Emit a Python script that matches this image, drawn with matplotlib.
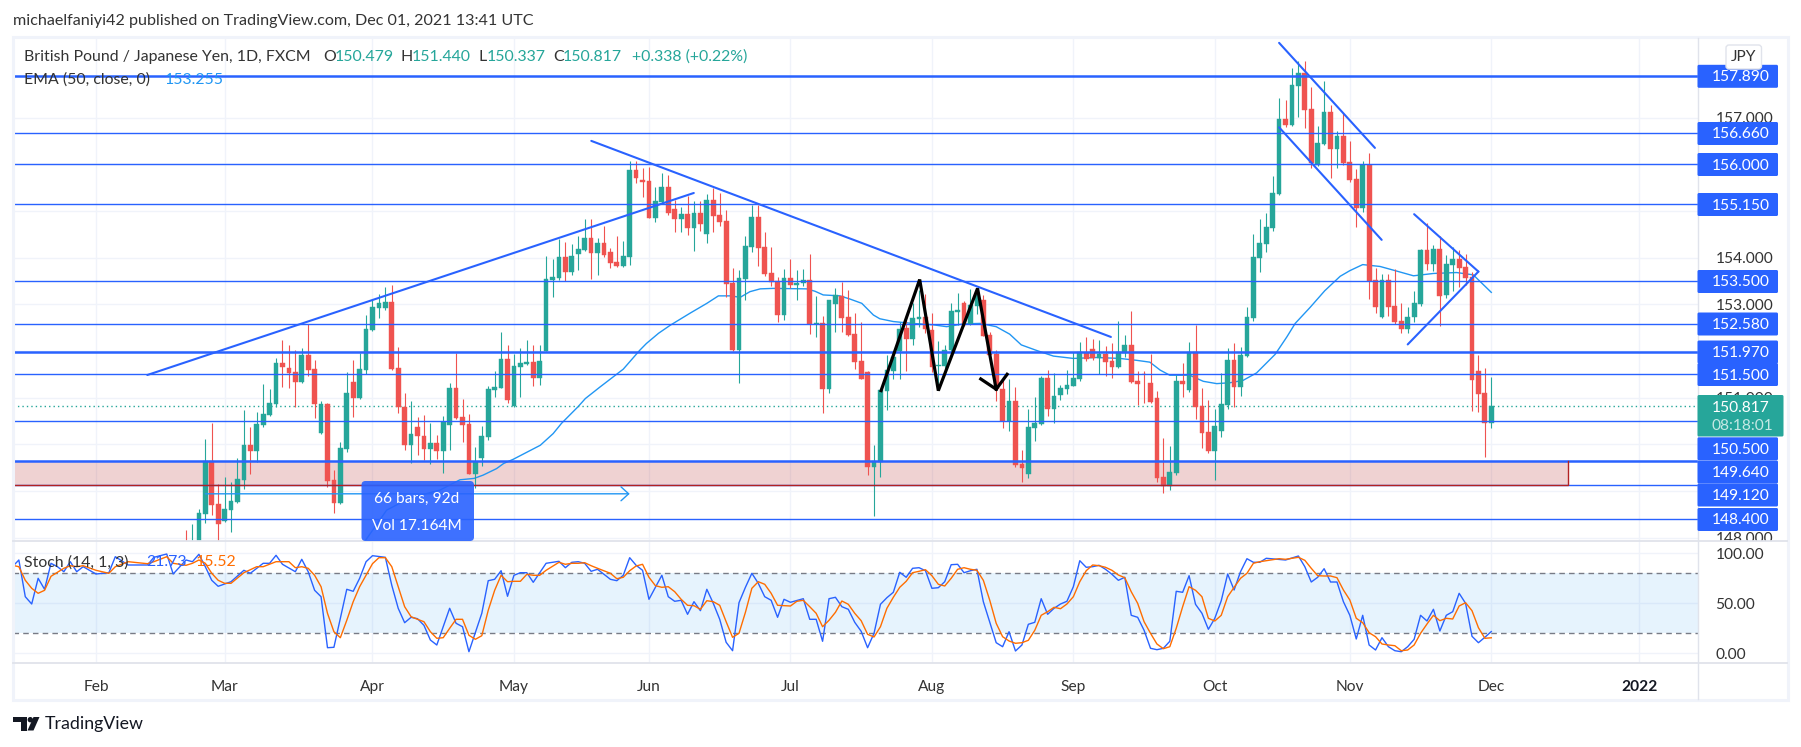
import matplotlib
matplotlib.use("Agg")
import matplotlib.pyplot as plt
from matplotlib.patches import Rectangle, FancyBboxPatch, Polygon, Circle
from matplotlib.transforms import Affine2D, Bbox

plt.rcParams['font.family'] = ['Lato', 'DejaVu Sans']

# ---------- data ----------
first_bar = 14
bar_open = [147.75,147.55,147.60,148.51,149.64,148.72,148.36,148.59,148.76,149.23,
 149.98,149.86,150.41,150.63,150.86,151.74,151.63,151.55,151.33,151.91,
 151.61,150.24,150.86,149.23,148.74,149.90,151.33,150.99,151.59,152.45,
 152.92,152.92,153.05,151.63,
 150.81,149.98,150.37,150.18,149.90,150.03,149.86,150.41,151.21,150.58,
 150.43,149.36,149.70,150.16,151.16,151.21,151.83,150.82,151.66,151.72,
 151.76,151.42,152.00,153.52,153.56,154.01,153.69,154.08,154.16,154.42,
 154.10,154.31,154.12,153.90,153.82,154.01,155.88,
 155.66,155.64,154.85,155.19,155.51,155.04,154.83,154.93,154.63,154.95,
 154.50,155.23,154.91,154.78,153.46,152.02,153.54,154.23,154.87,154.23,
 153.67,153.49,152.77,153.56,153.41,153.45,153.52,152.58,152.60,151.18,
 153.00,153.18,152.73,152.36,151.78,151.55,149.51,
 149.62,151.15,151.57,151.99,152.49,152.26,152.69,152.73,152.45,151.67,
 151.68,152.02,152.83,153.03,152.58,152.96,153.09,152.34,151.93,151.18,
 150.50,150.93,149.58,149.36,150.35,150.43,151.42,150.76,151.06,151.18,
 151.25,151.40,151.96,152.04,151.85,151.93,151.78,151.65,
 151.95,152.12,151.35,151.51,151.31,150.99,149.30,149.10,149.38,151.35,
 151.16,151.98,150.82,150.26,149.85,150.28,150.84,151.80,151.23,151.89,
 152.70,153.99,154.29,154.63,155.36,156.97,156.84,157.68,157.95,
 157.18,155.98,156.43,157.12,156.33,156.60,156.05,155.68,155.06,155.98,
 153.52,152.73,153.52,152.96,152.64,152.47,152.73,153.00,154.16,153.86,
 154.18,153.20,153.84,153.97,153.80,153.58,151.57,151.10,150.46]
bar_close = [147.45,147.85,148.53,149.65,148.70,148.29,148.61,148.78,149.26,149.98,
 149.86,150.43,150.65,150.88,151.74,151.66,151.53,151.33,151.91,151.59,
 150.86,150.86,149.21,148.74,149.92,151.10,150.99,151.61,152.47,152.94,
 153.03,153.05,151.61,150.80,
 149.98,150.22,150.18,149.90,150.03,149.86,150.48,151.21,150.56,150.41,
 149.36,149.62,150.18,151.18,151.23,151.83,150.95,151.68,151.74,151.76,
 151.42,151.78,153.54,153.58,154.01,153.69,154.03,154.18,154.42,154.10,
 154.31,154.05,153.88,153.82,154.03,155.88,155.70,
 155.62,154.85,155.21,155.51,154.96,154.83,154.93,154.63,154.95,154.72,
 155.23,154.89,154.76,153.43,152.01,153.56,154.25,154.87,154.20,153.65,
 153.48,152.77,153.56,153.41,153.45,153.52,152.58,152.60,151.18,153.09,
 153.20,152.71,152.34,151.76,151.40,149.51,149.64,
 151.16,151.59,151.86,152.48,152.26,152.71,152.73,152.47,151.65,151.69,
 152.02,152.86,152.88,152.56,152.98,153.20,152.32,151.91,151.18,150.50,
 150.93,149.56,149.49,150.37,150.45,151.42,150.76,151.03,151.20,151.27,
 151.42,151.98,151.83,151.85,151.93,151.76,151.65,151.98,
 152.12,151.33,151.29,151.50,150.90,149.28,149.10,149.40,151.35,151.29,
 151.98,150.80,150.24,149.85,150.39,150.86,151.80,151.23,151.91,152.73,
 154.01,154.31,154.65,155.38,156.97,156.84,157.70,157.95,157.16,
 156.02,156.45,157.12,156.33,156.60,156.03,155.66,155.06,155.98,153.50,
 152.94,153.52,152.94,152.62,152.47,152.73,153.03,154.16,153.86,154.18,
 153.18,153.86,153.97,153.78,153.56,151.38,151.08,150.46,150.82]
bar_high = [148.16,148.29,148.61,150.11,150.46,149.16,149.31,149.20,149.71,150.73,
 150.37,150.69,151.29,151.18,151.85,152.23,152.13,152.02,152.06,152.57,
 151.81,150.92,150.88,149.45,150.05,151.55,151.81,151.96,152.77,153.09,
 153.22,153.37,153.41,152.08,
 151.09,150.92,150.58,150.62,150.45,150.20,150.60,151.31,151.96,150.97,
 150.65,149.94,150.39,151.25,151.57,152.40,152.13,151.93,152.06,152.23,
 152.13,152.13,154.03,153.97,154.40,154.33,154.29,154.46,154.83,154.83,
 154.42,154.68,154.20,154.46,154.35,156.07,156.07,
 155.92,155.94,155.51,155.81,155.77,155.23,155.08,155.32,155.21,155.21,
 155.36,155.49,155.38,155.02,153.78,153.73,154.46,155.13,155.13,154.55,
 154.23,153.58,153.75,153.97,153.73,153.75,154.08,153.18,152.75,153.09,
 153.35,153.48,153.31,152.81,152.62,151.57,149.98,
 151.17,151.91,151.95,152.61,152.66,153.02,153.31,153.22,152.81,152.21,
 152.13,153.03,153.24,153.07,153.33,153.34,153.20,152.41,152.02,151.45,
 151.40,151.23,149.88,150.76,151.01,151.46,151.59,151.53,151.27,151.59,
 151.98,152.19,152.30,152.26,152.23,152.11,152.17,152.64,
 152.34,152.85,151.57,151.57,151.93,151.14,150.13,149.96,151.48,151.74,
 152.19,152.55,151.20,150.95,150.75,151.52,152.06,152.17,152.08,152.94,
 154.50,154.83,154.95,155.75,157.42,157.37,158.06,158.21,158.21,
 157.66,156.82,157.78,157.27,156.71,157.10,156.50,155.90,156.07,156.24,
 153.78,153.65,153.65,153.75,153.03,152.94,153.28,154.18,154.74,154.27,
 154.46,154.05,154.23,154.16,154.08,153.70,151.91,151.63,151.44]
bar_low = [147.30,147.40,147.45,148.32,148.48,147.93,148.33,148.13,148.75,149.04,
 149.36,149.63,150.37,150.61,150.81,151.23,151.21,150.81,151.31,151.46,
 150.56,150.22,149.09,148.53,148.72,149.83,150.58,150.97,151.51,152.43,
 152.71,152.88,151.60,150.67,
 149.88,149.60,149.77,149.66,149.58,149.68,149.38,149.88,150.55,150.05,
 149.36,149.06,149.53,150.09,151.01,151.20,150.88,150.81,151.01,151.70,
 151.25,151.27,152.00,153.16,153.52,153.50,153.63,153.73,154.15,153.54,
 153.63,154.01,153.78,153.80,153.79,153.84,155.60,
 155.30,154.85,154.76,155.18,154.91,154.55,154.55,154.48,154.14,154.57,
 154.31,154.55,154.68,153.16,151.99,151.31,153.09,154.12,153.82,153.60,
 153.39,152.62,152.66,153.35,153.09,153.39,152.36,152.30,150.67,151.10,
 152.40,152.40,152.33,151.61,151.39,149.34,148.46,
 149.30,150.73,151.40,151.40,151.56,152.13,152.51,152.39,151.55,151.20,
 151.59,151.98,152.56,152.53,152.56,152.80,152.31,151.90,150.93,150.35,
 150.29,149.51,149.19,149.28,150.07,150.42,150.61,150.46,150.95,151.08,
 151.24,151.36,151.78,151.81,151.50,151.46,151.42,151.64,
 151.87,151.32,150.84,150.88,150.89,149.19,148.95,149.02,149.34,151.01,
 151.12,150.54,149.92,149.81,149.23,150.15,150.75,150.80,151.03,151.88,
 152.64,153.69,154.12,154.57,155.35,156.80,156.82,157.01,156.78,
 155.92,155.96,156.42,155.70,155.92,155.98,155.62,154.66,154.98,153.11,
 152.81,152.70,152.75,152.58,152.38,152.38,152.62,152.96,153.73,153.71,
 152.53,153.13,153.28,153.37,153.41,150.71,150.69,149.73,150.35]

ema_idx = [38,41.9,45.2,48.8,53.5,56.6,58.8,60.2,62.3,63.4,64.9,69.1,71.1,72.4,75,76.1,78.4,82,84.6,
 85.6,87.5,89.3,92.4,95,96.8,98.6,100.2,101.7,103.3,105.3,110.5,111.8,113.1,115.7,117.3,119.1,120.9,
 121.9,124,127,130.2,132.3,134.9,137.5,140,142.1,143.9,146.3,148.9,152,155.6,159.2,161.8,163.9,165.5,
 167,170.1,172.2,174.3,176.4,178.4,180.5,183.4,185.2,186.5,188.8,191.1,193.5,195,197,199.7,201.8,
 204.9,208,211.6,214.2,217]
ema_val = [147.3,147.94,148.59,148.85,149.02,149.24,149.27,149.34,149.48,149.59,149.68,149.98,150.23,150.45,
 150.81,150.98,151.23,151.61,152.02,152.16,152.38,152.55,152.81,153.02,153.18,153.18,153.15,153.27,153.33,
 153.34,153.33,153.28,153.20,153.18,153.11,153.02,152.77,152.69,152.63,152.59,152.56,152.52,152.58,152.59,
 152.52,152.36,152.13,152.01,151.89,151.84,151.86,151.84,151.80,151.76,151.59,151.48,151.48,151.35,151.30,
 151.32,151.37,151.53,151.93,152.30,152.59,152.93,153.29,153.60,153.72,153.85,153.81,153.73,153.61,153.66,
 153.68,153.63,153.255]

k_idx = [-13,-12,-11,-10,-9,-8,-7,-6,-5,-4,-3,-2,0,2,3,5,8,9,11,12,14,15,16,17,18,19,21,23,24,26,27,28,29,31,
 32,33,34,35,36,37,39,40,41,42,43,45,46,47,48,49,50,51,52,53,55,56,57,58,60,61,62,63,64,65,66,67,68,70,72,
 73,74,75,76,77,78,80,81,82,83,84,85,86,87,88,89,90,91,92,93,94,95,96,97,98,99,100,101,102,103,104,105,106,
 107,108,110,111,112,113,114,115,116,117,118,119,120,121,122,123,124,125,126,127,128,129,130,131,132,133,134,
 135,136,137,138,140,141,142,143,144,145,146,147,148,149,150,151,152,153,154,155,156,157,158,159,160,161,162,
 163,164,165,166,167,168,169,170,171,172,173,174,175,176,177,178,179,180,181,182,185,187,188,189,190,191,192,
 193,194,195,196,197,198,199,200,201,202,203,204,205,206,207,208,209,210,211,212,213,214,215,216,217]
k_val = [86.6,93.3,56.6,49.3,75,64,90,86.6,81.6,91.6,81.6,86.6,79.3,80.6,96.6,88.3,88.3,96,99.3,79.3,93.3,91.6,99,
 86.6,73,67,71.6,83,80,90,90,98,89,81.6,94,81.6,63,56.6,5.6,6,64,62,75,91.6,97.6,96,68,45,30.6,36,34.6,28,13.3,
 8.3,45,30,26.6,1.6,40,72.6,74,82.6,57,78,80.6,80.6,71,90,92,85.6,91,91.6,90,82,84,74,72.6,78,95.6,88,83,54,66,
 78,56.6,52,53,39,51.6,42.6,64,50,34,11,2.6,50.6,66,80,70,56.6,53,36,54,51,54.6,34,34,12,54.6,56,46.6,44,31,22,
 5.6,20,49,55.6,61,81,76,85,85.6,82.6,65,65.6,71.6,88.6,89,80.6,82.6,84,51.6,10.6,6.6,21.6,2.3,8.3,29,31,54.6,
 39,45,49.3,52,66.6,92.6,86,86.6,88,84,79,73,76,38,36,23,5,3.6,5,12,62,61,77.6,49,40,24,35,52.6,79.3,63.3,81.6,
 94.6,91,91,95,93.3,97.3,86.6,71.3,76,84.6,71.3,71.3,51.6,38,14.3,38,8.3,3.3,15.6,6.6,2.6,1.6,6.6,14,38,32.3,44,
 22.3,38,41.6,60,50,17,10.6,16,21.73]

d_idx = [-13,-12,-11,-10,-9,-8,-7,-6,-5,-4,-3,-2,0,2,3,5,8,9,11,12,14,15,16,17,18,19,20,21,23,25,26,28,30,31,32,33,
 34,35,36,37,38,39,40,41,42,43,44,45,46,47,48,49,50,51,52,53,54,55,56,57,58,59,60,61,62,63,64,65,66,67,68,69,70,
 72,73,74,75,76,77,78,80,81,82,83,84,85,86,87,88,89,90,91,92,93,94,95,96,97,98,99,100,101,102,103,104,105,106,107,
 108,109,110,111,112,113,114,115,116,117,118,119,120,121,122,123,124,125,126,127,128,129,130,131,132,133,134,135,
 136,137,138,139,140,141,142,143,144,145,146,147,148,149,150,151,152,153,154,155,156,157,158,159,160,161,162,163,
 164,165,166,167,168,169,170,171,172,173,174,175,176,177,178,179,180,181,182,184,185,187,188,189,190,191,192,193,
 194,195,196,197,198,199,200,201,202,203,204,205,206,207,208,209,210,211,212,213,214,215,216,217]
d_val = [88,86.6,73,65,60,63,77,81,85,87.6,86.6,87.6,83,80,86.6,91.6,89.6,91.6,96.6,90,88,90,93.3,90,80,73,70,70,80.6,
 86.6,86.6,91.6,91.6,85.6,86.6,85,78,66.6,40,21.6,15.6,33,51.6,66.6,78,89.6,95.6,95.6,86.6,66.6,46.6,36.6,34,31.6,
 21.6,15,15.6,25,34,34,18,14,17.6,43,63,78,71.6,72,72,79,78,78,83,91,89,90,90,90.6,87.6,85,80,74.6,76,82.6,87.3,89,
 76,67.6,66,66.6,61.6,54,48,47.6,44,52.6,51.6,48,31.6,16,20,41,65,71.6,69,60,48,47.6,47.3,52,53,46.6,40,26.6,33,41,
 52.3,49,40,32.6,19,16.3,26.6,45,56,66,72,80.6,82,83.6,77.6,69,67.3,75,84,85.6,84,83,73,53,30,16.6,12.3,10,10.6,13,
 23,38,41.6,46,44.6,49.3,56.6,71.6,82.6,88.3,87.6,86,83,78.3,75.6,61.6,50,31.6,20,9.3,4.6,6.6,25,46.6,66.6,63,56.6,
 35,32.3,38,56.6,66,75,80,90,91.6,92.6,94.6,94,96,93,85,77.6,77.3,77.3,75.6,63.3,53.3,35,30.6,20.6,16.6,9.3,8.3,7.6,
 2.6,3.3,8.3,20,29.3,38,32.6,35,34.3,47.3,50.6,42.6,25.6,15,15.52]

thick_levels = [157.89, 151.97, 149.64]
thin_levels = [156.66, 156.00, 155.15, 153.50, 152.58, 151.50, 150.50, 149.12, 148.40]
zone_low, zone_high = 149.12, 149.64
zone_end_bar = 229
last_price = 150.817

rise_x, rise_y = [7.98, 92.97], [151.485, 155.384]
fall_x, fall_y = [77.03, 157.84], [156.50, 152.30]
chan_up_x, chan_up_y = [184.0, 198.9], [158.60, 156.35]
chan_lo_x, chan_lo_y = [184.0, 199.95], [156.79, 154.38]
penn_up_x, penn_up_y = [205.0, 215.0], [154.93, 153.70]
penn_lo_x, penn_lo_y = [204.0, 215.0], [152.14, 153.70]
pattern_x = [122.1, 128.1, 131.0, 137.1, 140.0]
pattern_y = [151.15, 153.53, 151.15, 153.34, 151.18]
head_x = [137.6, 140.0, 141.7]
head_y = [151.40, 151.18, 151.50]
range_start, range_end, range_price = 17, 83, 148.94

month_idx = [0, 20, 43, 65, 86, 108, 130, 152, 174, 195, 217, 240]
month_lab = ['Feb','Mar','Apr','May','Jun','Jul','Aug','Sep','Oct','Nov','Dec','2022']
price_ticks = [148,149,150,151,152,153,154,155,156,157]
stoch_ticks = [0,50,100]
price_labels = ['157.890','156.660','156.000','155.150','153.500','152.580','151.970','151.500','150.500','149.640','149.120','148.400']

# ---------- style ----------
W, H = 1801, 747
BLUE = '#2962FF'; GREEN = '#26a69a'; RED = '#ef5350'; GRID = '#F0F3FA'; SEP = '#E0E3EB'
TXT = '#131722'; EMA = '#2196F3'; ORANGE = '#FF6D00'

fig = plt.figure(figsize=(W/100, H/100), dpi=100, facecolor='white')
tr = Affine2D().scale(1/W, -1/H).translate(0, 1) + fig.transFigure
L, R = 13, 1697.5
def axes_px(top, bottom):
    return fig.add_axes([L/W, 1-bottom/H, (R-L)/W, (bottom-top)/H])

ax = axes_px(38, 541)
ax2 = axes_px(541, 663)
xlim = (-12.91, 249.07)
ax.set_xlim(xlim); ax2.set_xlim(xlim)
ax.set_ylim(147.929, 158.704)
ax2.set_ylim(-9.7, 112.3)

for a in (ax, ax2):
    a.set_axisbelow(True)
    a.grid(True, color=GRID, lw=1.0)
    for s in a.spines.values():
        s.set_visible(False)
    a.yaxis.tick_right()
    a.tick_params(length=0, colors='#333333', labelsize=11.2, pad=13)
    a.set_xticks(month_idx)
ax.set_xticklabels([])
ax2.set_xticklabels(month_lab)
ax2.tick_params(axis='x', pad=12)
for t in ax2.get_xticklabels():
    if t.get_text() == '2022':
        t.set_fontweight('bold'); t.set_color(TXT)
ax.set_yticks(price_ticks)
ax.set_yticklabels([f'{v:.3f}' for v in price_ticks])
clip = Bbox([[1698, H-541], [1790, H-38]])
for t in ax.get_yticklabels():
    t.set_clip_box(clip); t.set_clip_on(True)
ax2.set_yticks(stoch_ticks)
ax2.set_yticklabels([f'{v:.2f}' for v in stoch_ticks])

# zone
ax.add_patch(Rectangle((xlim[0], zone_low), zone_end_bar-xlim[0], zone_high-zone_low,
                       facecolor='#B22222', alpha=0.2, lw=0, zorder=1))
ax.plot([xlim[0], zone_end_bar, zone_end_bar], [zone_low+0.012, zone_low+0.012, zone_high],
        color='#B22222', lw=1.0, zorder=6.5)

# EMA
ax.plot(ema_idx, ema_val, color=EMA, lw=1.0, zorder=2)

# candles
idx = list(range(first_bar, first_bar+len(bar_open)))
assert len(bar_open) == len(bar_close) == len(bar_high) == len(bar_low)
cols = [GREEN if c >= o else RED for o, c in zip(bar_open, bar_close)]
ax.vlines(idx, bar_low, bar_high, colors=cols, lw=0.8, zorder=3)
ax.bar(idx, [abs(c-o) for o, c in zip(bar_open, bar_close)],
       bottom=[min(o, c) for o, c in zip(bar_open, bar_close)],
       width=0.74, color=cols, edgecolor=cols, lw=0.3, zorder=4)

# last price
ax.axhline(last_price, color=GREEN, lw=1.0, ls=(0, (1, 2.2)), zorder=2.5)

# levels
for v in thin_levels:
    ax.axhline(v, color=BLUE, lw=1.0, zorder=6)
for v in thick_levels:
    ax.axhline(v, color=BLUE, lw=1.8, zorder=6)

# drawings
for xs, ys in [(rise_x, rise_y), (fall_x, fall_y), (chan_up_x, chan_up_y), (chan_lo_x, chan_lo_y),
               (penn_up_x, penn_up_y), (penn_lo_x, penn_lo_y)]:
    ax.plot(xs, ys, color=BLUE, lw=1.5, zorder=7, solid_capstyle='round')
ax.plot(pattern_x, pattern_y, color='black', lw=2.3, zorder=8, solid_joinstyle='miter')
ax.plot(head_x, head_y, color='black', lw=2.3, zorder=8, solid_joinstyle='miter')

# date-range measure
ax.annotate('', xy=(range_end, range_price), xytext=(range_start, range_price), zorder=7,
            arrowprops=dict(arrowstyle='->,head_length=0.55,head_width=0.5', color=EMA, lw=1.0,
                            shrinkA=0, shrinkB=0))

# stochastic
ax2.axhspan(20, 80, color='#2196F3', alpha=0.11, lw=0, zorder=1)
ax2.axhline(80, color='#787B86', lw=1.0, ls=(0, (4, 3)), zorder=2)
ax2.axhline(20, color='#787B86', lw=1.0, ls=(0, (4, 3)), zorder=2)
ax2.plot(k_idx, k_val, color=BLUE, lw=1.0, zorder=3)
ax2.plot(d_idx, d_val, color=ORANGE, lw=1.0, zorder=4)

# ---------- figure level furniture ----------
def px_rect(x0, y0, x1, y1, z=5, **kw):
    fig.add_artist(Rectangle((x0, y0), x1-x0, y1-y0, transform=tr, zorder=z, **kw))
def px_text(x, y, s, z=10, color=TXT, size=11.2, ha='left', va='center', **kw):
    fig.text(x, y, s, transform=tr, color=color, fontsize=size, ha=ha, va=va, zorder=z, **kw)
def px_line(xs, ys, color=SEP, lw=1.0, z=5):
    fig.add_artist(plt.Line2D(xs, ys, transform=tr, color=color, lw=lw, zorder=z))

px_rect(12.5, 36.5, 1788, 700, z=5, facecolor='none', edgecolor=GRID, lw=2.2)
px_line([R, R], [38, 699])
px_line([L, 1787], [541, 541], lw=1.3)
px_line([L, 1787], [663, 663], lw=1.3)

# price tags
tag_y = [76.3, 133.5, 164.5, 204.5, 281.5, 324, 352, 374.5, 448.8, 472, 495, 519.5]
for y, s in zip(tag_y, price_labels):
    fig.add_artist(FancyBboxPatch((R, y-11.5), 1778-R, 23, boxstyle='round,pad=0,rounding_size=1.5',
                                  transform=tr, facecolor=BLUE, edgecolor='none', zorder=6))
for y, s in zip(tag_y, price_labels):
    px_text(1711.5, y+1, s, color='white', z=11)
# live price tag
fig.add_artist(FancyBboxPatch((R, 395), 1783.5-R, 41.5, boxstyle='round,pad=0,rounding_size=1.5',
                              transform=tr, facecolor=GREEN, edgecolor='none', zorder=7))
px_text(1711.5, 407.5, '150.817', color='white', z=11)
px_text(1711, 426.5, '08:18:01', color='#C5E8E4', z=11)

# JPY button
fig.add_artist(FancyBboxPatch((1726, 45), 35.5, 24, boxstyle='round,pad=0,rounding_size=3', transform=tr,
                              facecolor='white', edgecolor=SEP, lw=1.0, zorder=12))
px_text(1743.7, 57, 'JPY', ha='center', color='#333333', z=13)

# header and legend
px_text(13, 20.5, 'michaelfaniyi42 published on TradingView.com, Dec 01, 2021 13:41 UTC', color='#333333', size=11.6)
px_text(24, 57, 'British Pound / Japanese Yen, 1D, FXCM', color='#333333', size=11.4)
for x, lab, x2, val in [(323, 'O', 335, '150.479'), (400.5, 'H', 411.5, '151.440'),
                        (478, 'L', 487, '150.337'), (553, 'C', 563, '150.817')]:
    px_text(x, 57, lab, color='#333333', size=11.4)
    px_text(x2, 57, val, color=GREEN, size=11.4)
px_text(632, 57, '+0.338 (+0.22%)', color=GREEN, size=11.4)
px_text(24, 80, 'EMA (50, close, 0)', color='#333333', size=11.4)
px_text(164.5, 80, '153.255', color=EMA, size=11.4)
px_text(24, 562.5, 'Stoch (14, 1, 3)', color='#333333', size=11.4)
px_text(146, 562.5, '21.73', color=BLUE, size=11.4)
px_text(196, 562.5, '15.52', color=ORANGE, size=11.4)

# measure box
fig.add_artist(FancyBboxPatch((361.5, 481), 112.5, 60, boxstyle='round,pad=0,rounding_size=4', transform=tr,
                              facecolor=BLUE, alpha=0.9, edgecolor='none', zorder=9))
px_text(417, 498.5, '66 bars, 92d', color='white', ha='center', z=11)
px_text(417, 526, 'Vol 17.164M', color='white', ha='center', z=11)

# TradingView brand
fig.add_artist(Polygon([(13, 717), (27, 717), (27, 730.5), (21, 730.5), (21, 722), (13, 722)], transform=tr, facecolor='#131722', zorder=10))
fig.add_artist(Circle((30.3, 719.7), 2.7, transform=tr, facecolor='#131722', zorder=10))
fig.add_artist(Polygon([(33.5, 717), (39.5, 717), (33.5, 730.5), (27.5, 730.5)], transform=tr, facecolor='#131722', zorder=10))
px_text(44.5, 724, 'TradingView', color='#131722', size=12.8)

fig.savefig('out.png', dpi=100, facecolor='white')
